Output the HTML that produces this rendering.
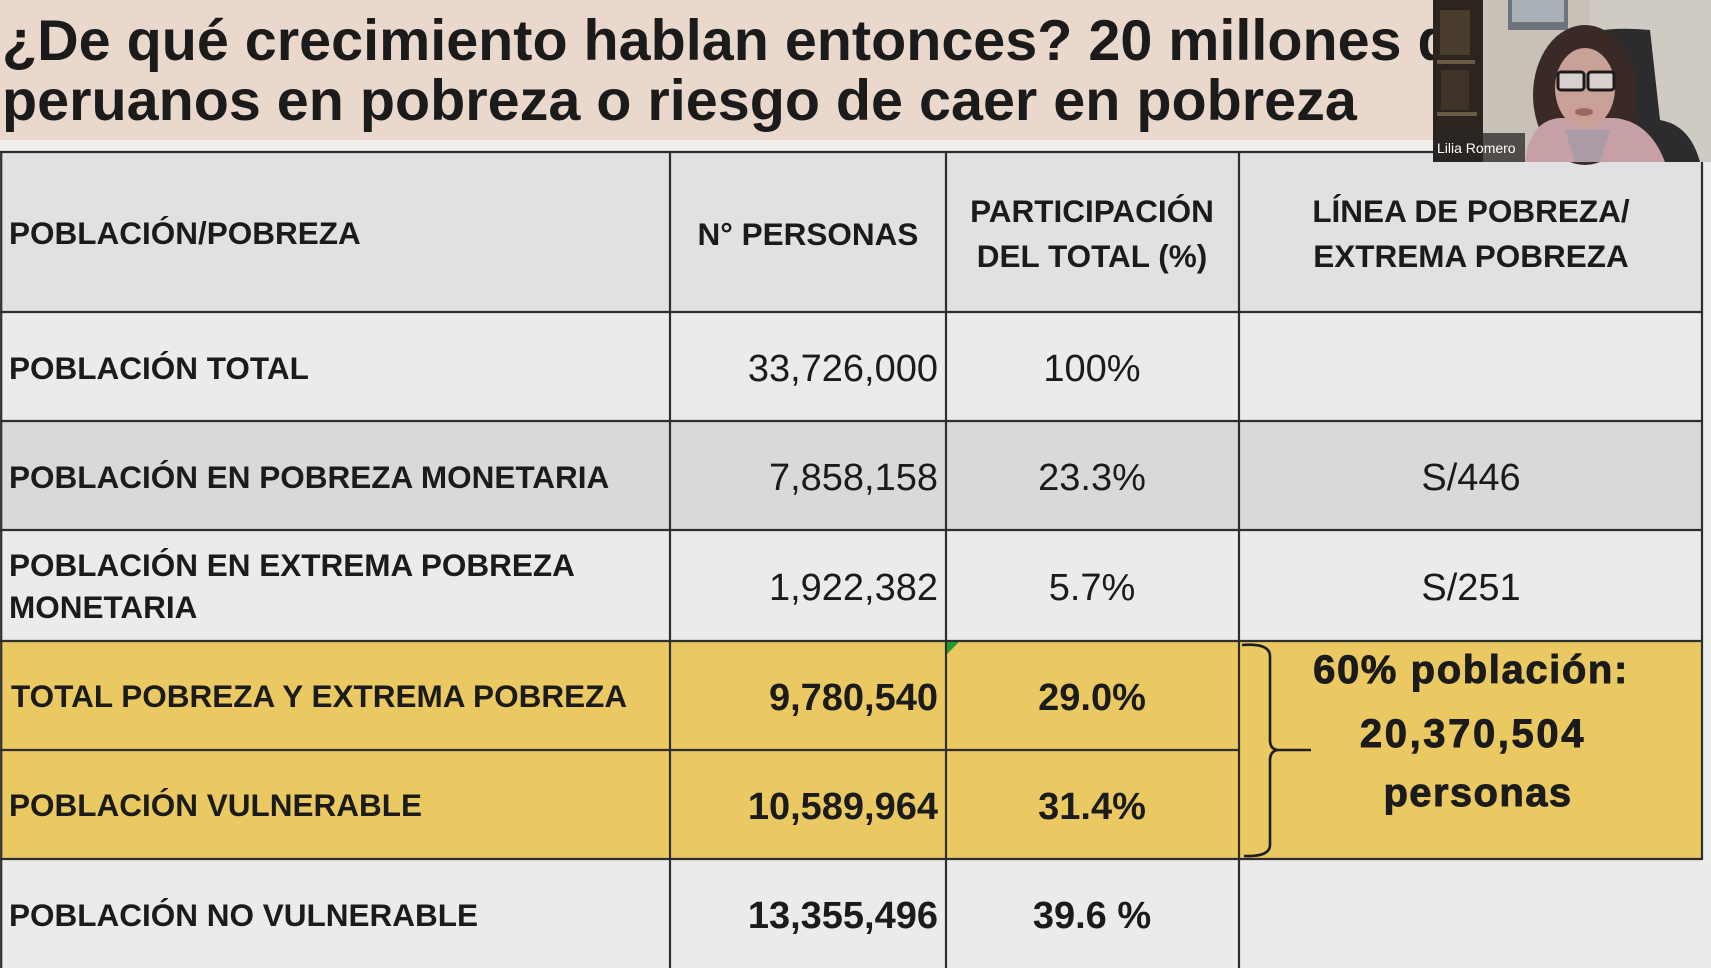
<!DOCTYPE html>
<html>
<head>
<meta charset="utf-8">
<style>
html,body{margin:0;padding:0;background:#ececec;}
svg{display:block;}
text{font-family:"Liberation Sans",Arial,sans-serif;fill:#1b1b1b;}
.b{font-weight:bold;}
</style>
</head>
<body>
<svg width="1711" height="968" viewBox="0 0 1711 968" xmlns="http://www.w3.org/2000/svg">
  <!-- page background -->
  <rect x="0" y="0" width="1711" height="968" fill="#ececec"/>
  <!-- title band -->
  <rect x="0" y="0" width="1711" height="140" fill="#ebd8cc"/>
  <rect x="0" y="140" width="1711" height="12" fill="#f1eeec"/>
  <text x="2" y="60" class="b" font-size="57.5" fill="#161616">¿De qué crecimiento hablan entonces? 20 millones de</text>
  <text x="2" y="120" class="b" font-size="57.5" fill="#161616">peruanos en pobreza o riesgo de caer en pobreza</text>

  <!-- table backgrounds -->
  <rect x="1" y="152" width="1701" height="160" fill="#e1e1e1"/>
  <rect x="1" y="312" width="1701" height="109" fill="#ebebeb"/>
  <rect x="1" y="421" width="1701" height="109" fill="#d9d9d9"/>
  <rect x="1" y="530" width="1701" height="111" fill="#ebebeb"/>
  <rect x="1" y="641" width="1701" height="218" fill="#ebc962"/>
  <rect x="1" y="859" width="1710" height="109" fill="#ebebeb"/>

  <!-- grid lines -->
  <g stroke="#2e2e2e" stroke-width="2.2" fill="none">
    <line x1="0" y1="152" x2="1703" y2="152"/>
    <line x1="0" y1="312" x2="1703" y2="312"/>
    <line x1="0" y1="421" x2="1703" y2="421"/>
    <line x1="0" y1="530" x2="1703" y2="530"/>
    <line x1="0" y1="641" x2="1703" y2="641"/>
    <line x1="0" y1="750" x2="1239" y2="750"/>
    <line x1="0" y1="859" x2="1703" y2="859"/>
    <line x1="1.2" y1="152" x2="1.2" y2="968"/>
    <line x1="670" y1="152" x2="670" y2="968"/>
    <line x1="946" y1="152" x2="946" y2="968"/>
    <line x1="1239" y1="152" x2="1239" y2="968"/>
    <line x1="1702" y1="152" x2="1702" y2="859"/>
  </g>

  <!-- green comment triangle -->
  <polygon points="947,642 959,642 947,654" fill="#1f9a2c"/>

  <!-- header -->
  <text x="9" y="244" class="b" font-size="31.5">POBLACIÓN/POBREZA</text>
  <text x="808" y="245" class="b" font-size="31.5" text-anchor="middle">N° PERSONAS</text>
  <text x="1092" y="222" class="b" font-size="31.5" text-anchor="middle">PARTICIPACIÓN</text>
  <text x="1092" y="267" class="b" font-size="31.5" text-anchor="middle">DEL TOTAL (%)</text>
  <text x="1471" y="222" class="b" font-size="31.5" text-anchor="middle">LÍNEA DE POBREZA/</text>
  <text x="1471" y="267" class="b" font-size="31.5" text-anchor="middle">EXTREMA POBREZA</text>

  <!-- column 1 -->
  <text x="9" y="379" class="b" font-size="31.5">POBLACIÓN TOTAL</text>
  <text x="9" y="488" class="b" font-size="31.5">POBLACIÓN EN POBREZA MONETARIA</text>
  <text x="9" y="576" class="b" font-size="31.5">POBLACIÓN EN EXTREMA POBREZA</text>
  <text x="9" y="618" class="b" font-size="31.5">MONETARIA</text>
  <text x="11" y="707" class="b" font-size="31.5">TOTAL POBREZA Y EXTREMA POBREZA</text>
  <text x="9" y="816" class="b" font-size="31.5">POBLACIÓN VULNERABLE</text>
  <text x="9" y="926" class="b" font-size="31.5">POBLACIÓN NO VULNERABLE</text>

  <!-- column 2 -->
  <text x="938" y="381" font-size="38" text-anchor="end">33,726,000</text>
  <text x="938" y="490" font-size="38" text-anchor="end">7,858,158</text>
  <text x="938" y="600" font-size="38" text-anchor="end">1,922,382</text>
  <text x="938" y="710" class="b" font-size="38" text-anchor="end">9,780,540</text>
  <text x="938" y="819" class="b" font-size="38" text-anchor="end">10,589,964</text>
  <text x="938" y="928" class="b" font-size="38" text-anchor="end">13,355,496</text>

  <!-- column 3 -->
  <text x="1092" y="381" font-size="38" text-anchor="middle">100%</text>
  <text x="1092" y="490" font-size="38" text-anchor="middle">23.3%</text>
  <text x="1092" y="600" font-size="38" text-anchor="middle">5.7%</text>
  <text x="1092" y="710" class="b" font-size="38" text-anchor="middle">29.0%</text>
  <text x="1092" y="819" class="b" font-size="38" text-anchor="middle">31.4%</text>
  <text x="1092" y="928" class="b" font-size="38" text-anchor="middle">39.6 %</text>

  <!-- column 4 -->
  <text x="1471" y="490" font-size="38" text-anchor="middle">S/446</text>
  <text x="1471" y="600" font-size="38" text-anchor="middle">S/251</text>

  <!-- brace -->
  <path d="M1242,645 Q1270,643 1270,656 L1270,740 Q1270,750 1279,750 L1311,750 M1279,750 Q1270,750 1270,761 L1270,845 Q1270,857 1244,856"
        stroke="#1e1e1e" stroke-width="2.6" fill="none"/>

  <!-- yellow block text -->
  <g font-size="40" class="b" text-anchor="middle" stroke="#1b1b1b" stroke-width="0.9">
    <text x="1471" y="683" class="b" letter-spacing="1.6">60% población:</text>
    <text x="1473" y="747" class="b" letter-spacing="2.6">20,370,504</text>
    <text x="1478" y="806" class="b" letter-spacing="1.4">personas</text>
  </g>

  <!-- webcam overlay -->
  <g>
    <rect x="1433" y="0" width="278" height="162" fill="#c7c1b8"/>
    <rect x="1590" y="0" width="121" height="162" fill="#cfcac2"/>
    <!-- bookshelf -->
    <rect x="1433" y="0" width="50" height="162" fill="#2b241f"/>
    <rect x="1440" y="10" width="30" height="45" fill="#4a3d2e"/>
    <rect x="1437" y="60" width="38" height="4" fill="#6b5a44"/>
    <rect x="1441" y="70" width="28" height="40" fill="#3e3428"/>
    <rect x="1437" y="112" width="40" height="4" fill="#6b5a44"/>
    <!-- picture -->
    <rect x="1508" y="0" width="60" height="30" fill="#6d747c"/>
    <rect x="1512" y="0" width="52" height="22" fill="#a9b1b8"/>
    <!-- chair -->
    <path d="M1560,40 Q1600,25 1650,30 L1660,120 Q1690,125 1700,162 L1550,162 Z" fill="#2c2b2e"/>
    <!-- hair -->
    <ellipse cx="1585" cy="95" rx="52" ry="70" fill="#3a2a26"/>
    <!-- body -->
    <path d="M1525,162 Q1530,120 1560,118 L1615,118 Q1650,122 1665,162 Z" fill="#c6a0a5"/>
    <path d="M1565,130 L1610,130 L1600,162 L1575,162 Z" fill="#a99ca6"/>
    <!-- face -->
    <ellipse cx="1585" cy="88" rx="30" ry="40" fill="#c9a196"/>
    <!-- glasses -->
    <rect x="1558" y="72" width="26" height="18" rx="3" fill="#d7d0cf" stroke="#1d1b1c" stroke-width="3"/>
    <rect x="1588" y="72" width="26" height="18" rx="3" fill="#d7d0cf" stroke="#1d1b1c" stroke-width="3"/>
    <ellipse cx="1584" cy="112" rx="9" ry="4" fill="#9a6a68"/>
    <!-- name label -->
    <rect x="1433" y="133" width="92" height="29" fill="#2a2624" opacity="0.75"/>
    <text x="1437" y="153" font-size="14" fill="#ffffff" style="fill:#ffffff">Lilia Romero</text>
  </g>
</svg>
</body>
</html>
